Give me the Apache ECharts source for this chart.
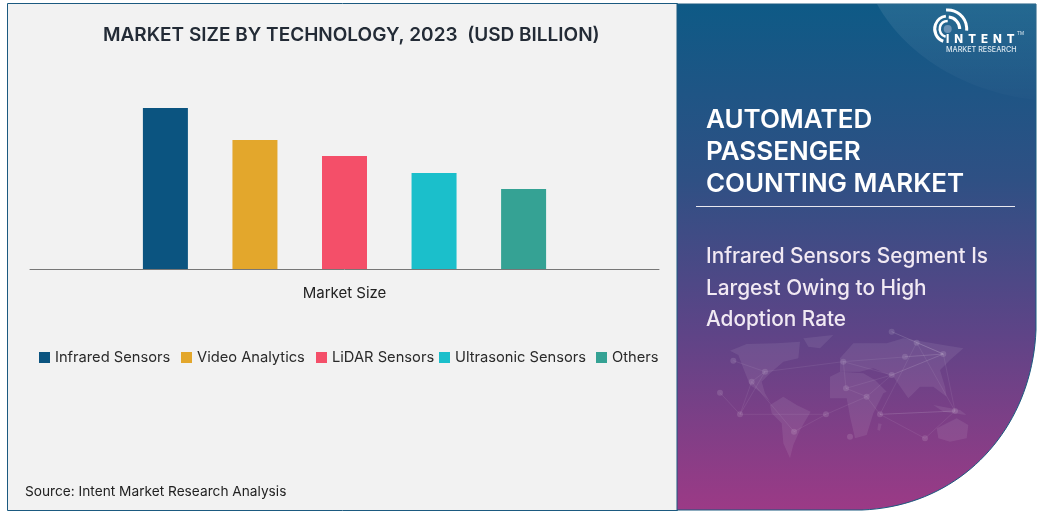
<!DOCTYPE html>
<html><head><meta charset="utf-8">
<style>html,body{margin:0;padding:0;background:#fff}#c{width:1043px;height:513px}</style>
<script src="https://cdn.jsdelivr.net/npm/echarts@6/dist/echarts.min.js"></script>
</head><body><div id="c"></div>
<script>
const categories = ["Market Size"];
const seriesNames = ["Infrared Sensors","Video Analytics","LiDAR Sensors","Ultrasonic Sensors","Others"];
const seriesValues = [1.61,1.29,1.13,0.96,0.80];
const seriesColors = ["#0b5480","#e3a72c","#f44f69","#1bbfcb","#35a294"];
const legendLefts = [39,181,316,439,596];
const FONT = "Inter";
const chart = echarts.init(document.getElementById('c'));
const W = (pts)=>pts.map(p=>[720+p[0]/3,330+p[1]/3]);
const E = (pts)=>pts.map(p=>[830+p[0]/3,330+p[1]/3]);
const bez=(a,b,c,d,n)=>{const o=[];for(let i=0;i<=n;i++){const t=i/n,u=1-t;o.push([u*u*u*a[0]+3*u*u*t*b[0]+3*u*t*t*c[0]+t*t*t*d[0],u*u*u*a[1]+3*u*u*t*b[1]+3*u*t*t*c[1]+t*t*t*d[1]]);}return o;};
const panelPts=[[677,4],[1036,4],...bez([1036,330],[1032,428],[962,506],[862,510],40),[677,510]];
const glowPts=[[877,4],[1036,4],[1036,100],...bez([1036,100],[965,92],[905,55],[877,4],30)];
const land = [
 ...[
  [[30,62],[80,42],[170,40],[240,35],[235,85],[190,95],[150,130],[125,155],[135,190],[150,215],[120,185],[90,165],[70,115],[55,75]],
  [[250,25],[340,15],[300,55],[265,50]],
  [[150,225],[190,200],[230,225],[272,245],[240,300],[220,345],[210,385],[190,340],[185,280],[155,250]]
 ].map(W),
 ...[
  [[0,140],[30,125],[100,130],[135,150],[170,185],[160,190],[130,250],[110,315],[75,325],[60,260],[50,205],[0,205]],
  [[30,85],[70,40],[170,40],[220,25],[340,45],[400,55],[360,90],[330,120],[345,170],[350,200],[310,170],[270,170],[235,205],[190,140],[130,115],[90,125],[30,125]],
  [[310,225],[390,240],[410,255],[340,245]],
  [[320,295],[380,265],[415,285],[410,325],[360,335],[325,325]],
  [[145,280],[155,282],[150,302],[142,300]]
 ].map(E)
];
const nodes = [...W([[40,92],[135,125],[95,155],[60,253],[318,253],[222,305],[378,175],[0,188]]),
 ...E([[40,95],[185,135],[110,200],[150,253],[375,243],[260,38],[340,72],[185,5],[225,80],[285,325],[60,320]])];
const links = [[0,1],[1,2],[2,3],[3,4],[4,5],[4,10],[10,11],[11,12],[8,9],[9,10],[9,14],[14,13],[14,15],[14,16],[14,9],[14,8],[14,12],[9,6],[6,10],[8,1],[7,3],[3,1],[11,17],[12,17],[12,11],[5,2],[15,14],[6,8],[13,12],[13,11]];
const txt=(x,y,t,size,w,fill,extra)=>({type:'text',z:5,style:Object.assign({x,y,text:t,fontFamily:FONT,fontSize:size,fontWeight:w,fill,textVerticalAlign:'middle'},extra||{})});
const deg=Math.PI/180;
const arc=(r,a,b,lw)=>({type:'arc',z:5,shape:{cx:947.7,cy:29,r,startAngle:a*deg,endAngle:b*deg},style:{stroke:'#fff',fill:null,lineWidth:lw}});
const graphic = [
 {type:'rect',z:-10,shape:{x:7.5,y:3.5,width:670,height:507},style:{fill:'#f2f2f2',stroke:'#1b5a80',lineWidth:1}},
 {type:'polygon',z:-9,shape:{points:panelPts},
  style:{fill:new echarts.graphic.LinearGradient(0,0,0,1,[{offset:0,color:'#0e5a86'},{offset:.35,color:'#2f5084'},{offset:.65,color:'#5e4487'},{offset:1,color:'#9c3a86'}]),stroke:'#1b5a80',lineWidth:1}},
 {type:'polygon',z:-8,shape:{points:glowPts},style:{fill:new echarts.graphic.LinearGradient(0,0,0,1,[{offset:0,color:'rgba(255,255,255,0.09)'},{offset:1,color:'rgba(255,255,255,0.01)'}])}},
 ...land.map(p=>({type:'polygon',z:-7,shape:{points:p},style:{fill:'rgba(255,255,255,0.08)'}})),
 ...links.map(l=>({type:'line',z:-7,shape:{x1:nodes[l[0]][0],y1:nodes[l[0]][1],x2:nodes[l[1]][0],y2:nodes[l[1]][1]},style:{stroke:'rgba(255,255,255,0.07)',lineWidth:1}})),
 ...nodes.map(p=>({type:'circle',z:-7,shape:{cx:p[0],cy:p[1],r:3},style:{fill:'rgba(255,255,255,0.12)'}})),
 {type:'line',z:5,shape:{x1:696,y1:206.5,x2:1015,y2:206.5},style:{stroke:'#e8e8ef',lineWidth:1}},
 txt(706,120,'AUTOMATED',26,600,'#fff'),
 txt(706,152,'PASSENGER',26,600,'#fff'),
 txt(706,184,'COUNTING MARKET',25.9,600,'#fff'),
 txt(706,257,'Infrared Sensors Segment Is',20.8,500,'#f1e9f3'),
 txt(706,289,'Largest Owing to High',20.8,500,'#f1e9f3'),
 txt(706,320,'Adoption Rate',20.8,500,'#f1e9f3'),
 txt(25,492,'Source: Intent Market Research Analysis',13.7,400,'#222'),
 arc(19,-95,5,3),arc(12,-85,0,3),arc(13,110,262,3),arc(8,105,270,2.5),
 {type:'circle',z:5,shape:{cx:947.7,cy:29,r:4},style:{fill:'#6c93b5'}},
 txt(946,39.5,'I  N  T  E  N  T',11.5,800,'#fff'),
 txt(946,50,'MARKET RESEARCH',7.2,500,'#dce8f0'),
 txt(1017,34,'TM',4.5,400,'#dce8f0')
];
chart.setOption({
 animation:false,
 backgroundColor:'#fff',
 title:{text:'MARKET SIZE BY TECHNOLOGY, 2023  (USD BILLION)',left:98,top:21,textStyle:{fontFamily:FONT,fontSize:19,fontWeight:600,color:'#232b36'}},
 grid:{left:30,top:69,width:629,height:200},
 legend:seriesNames.map((n,i)=>({left:legendLefts[i],top:350,padding:0,itemWidth:11,itemHeight:11,icon:'rect',textStyle:{fontFamily:FONT,fontSize:14.7,color:'#2a2a2a'},data:[n]})),
 xAxis:{type:'category',data:categories,axisLine:{lineStyle:{color:'#777',width:1}},axisTick:{show:false},axisLabel:{fontFamily:FONT,fontSize:15,color:'#222',margin:17}},
 yAxis:{type:'value',min:0,max:2,show:false,splitLine:{show:false}},
 graphic,
 series:seriesNames.map((n,i)=>({name:n,type:'bar',data:[seriesValues[i]],barWidth:45,barGap:'99%',itemStyle:{color:seriesColors[i]}}))
});
</script></body></html>
